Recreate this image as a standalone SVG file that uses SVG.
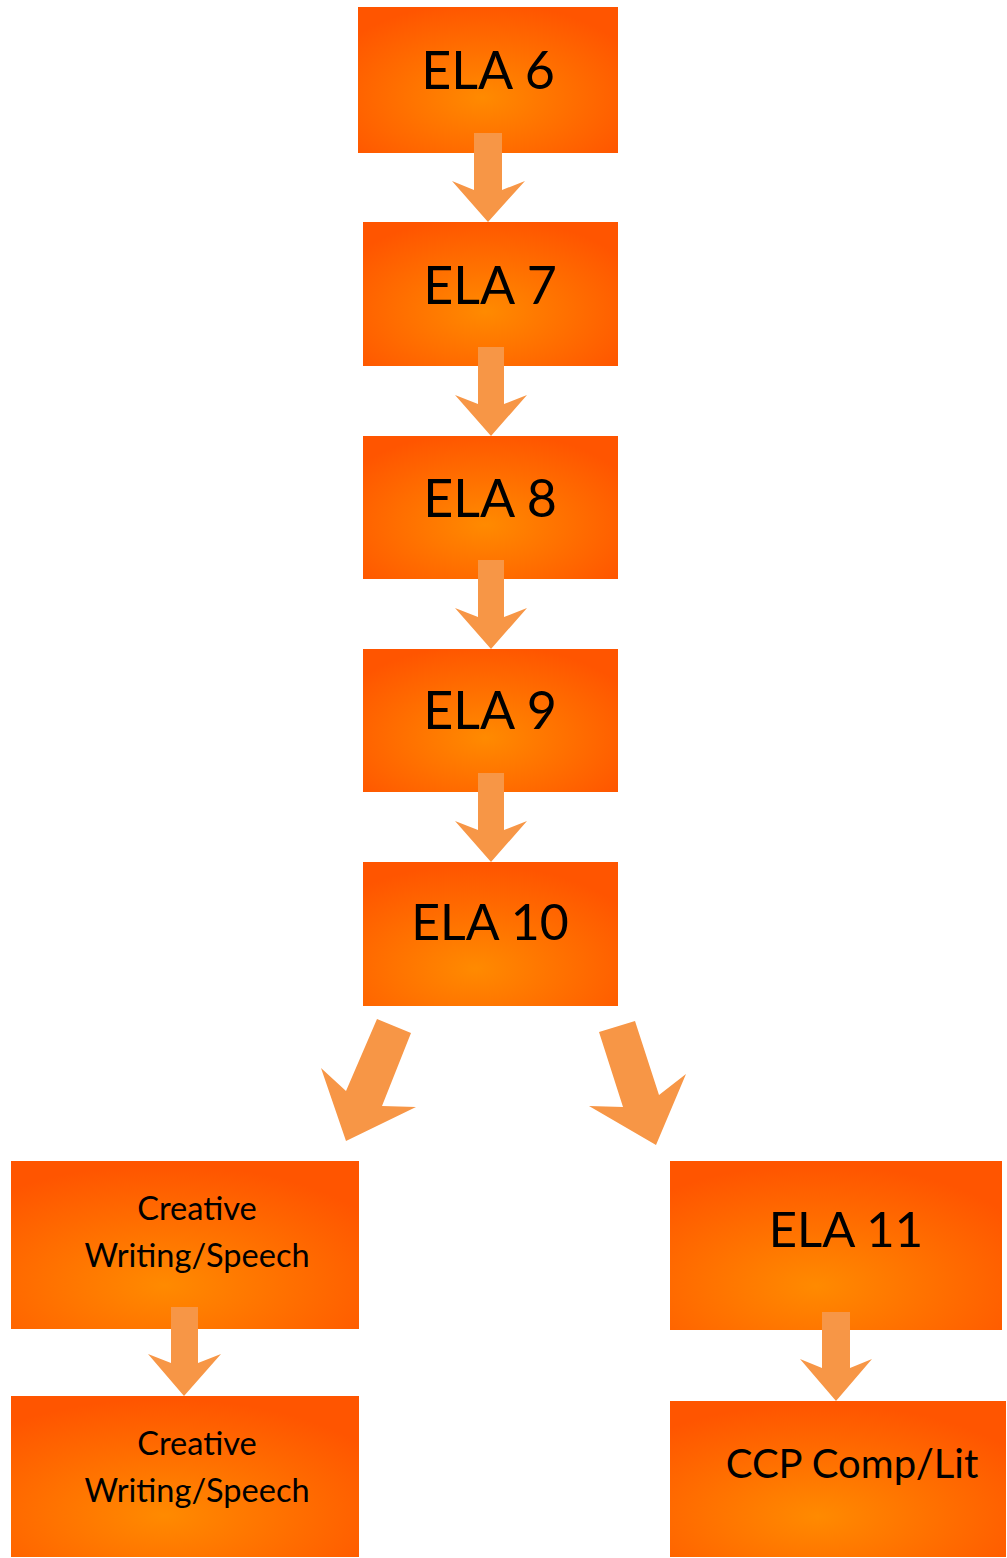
<svg xmlns="http://www.w3.org/2000/svg" width="1007" height="1558" viewBox="0 0 1007 1558">
<style>
.big{font-family:Lato,"Liberation Sans",sans-serif;font-size:52px;fill:#000;text-anchor:middle}
.small{font-family:Lato,"Liberation Sans",sans-serif;font-size:32.5px;fill:#000;text-anchor:middle}
.arr{fill:#F79646}
</style>
<defs>
<radialGradient id="gA" cx="0.48" cy="0.62" r="0.65">
<stop offset="0" stop-color="#FF8A00"/>
<stop offset="1" stop-color="#FF5500"/>
</radialGradient>
<radialGradient id="gB" cx="0.44" cy="0.74" r="0.72">
<stop offset="0" stop-color="#FF8A00"/>
<stop offset="1" stop-color="#FF5500"/>
</radialGradient>
</defs>
<rect width="1007" height="1558" fill="#fff"/>
<g id="ela6"><rect x="358" y="7" width="260" height="146" fill="url(#gA)"/><text class="big" x="488" y="89">ELA 6</text></g>
<g id="ela7"><rect x="363" y="222" width="255" height="144" fill="url(#gA)"/><text class="big" x="490" y="304">ELA 7</text></g>
<g id="ela8"><rect x="363" y="436" width="255" height="143" fill="url(#gA)"/><text class="big" x="490" y="517">ELA 8</text></g>
<g id="ela9"><rect x="363" y="649" width="255" height="143" fill="url(#gA)"/><text class="big" x="490" y="729">ELA 9</text></g>
<g id="ela10"><rect x="363" y="862" width="255" height="144" fill="url(#gB)"/><text class="big" x="490" y="940" style="font-size:50px">ELA 10</text></g>
<g id="cw1"><rect x="11" y="1161" width="348" height="168" fill="url(#gB)"/><text class="small" x="197" y="1220">Creative</text><text class="small" x="197" y="1267">Writing/Speech</text></g>
<g id="cw2"><rect x="11" y="1396" width="348" height="161" fill="url(#gB)"/><text class="small" x="197" y="1455">Creative</text><text class="small" x="197" y="1502">Writing/Speech</text></g>
<g id="ela11"><rect x="670" y="1161" width="332" height="169" fill="url(#gB)"/><text class="big" x="846" y="1247" style="font-size:49px">ELA 11</text></g>
<g id="ccp"><rect x="670" y="1401" width="336" height="156" fill="url(#gB)"/><text class="big" x="852" y="1478" style="font-size:40px">CCP Comp/Lit</text></g>
<g id="connectors">
<polygon class="arr" points="474,133 502,133 502,190 525,181 488,222 452,181 474,190"/>
<polygon class="arr" points="478,347 504,347 504,404 527,395 491,436 455,395 478,404"/>
<polygon class="arr" points="478,560 504,560 504,617 527,608 491,649 455,608 478,617"/>
<polygon class="arr" points="478,773 504,773 504,830 527,821 491,862 455,821 478,830"/>
<polygon class="arr" points="377,1019 411,1033 382,1106 416,1107 346,1141 321,1068 346,1091"/>
<polygon class="arr" points="599,1032 635,1021 659,1095 686,1074 656,1145 589,1106 623,1107"/>
<polygon class="arr" points="171,1307 198,1307 198,1363 221,1354 184,1396 148,1354 171,1363"/>
<polygon class="arr" points="822,1312 850,1312 850,1368 872,1359 836,1401 800,1359 822,1368"/>
</g>
</svg>
